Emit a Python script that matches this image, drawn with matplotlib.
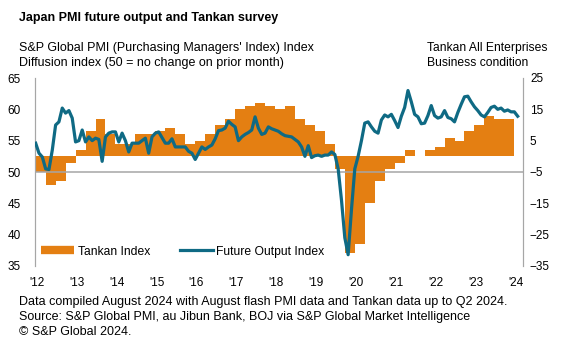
import matplotlib
matplotlib.use("Agg")
import matplotlib.pyplot as plt
import numpy as np
from matplotlib.lines import Line2D

plt.rcParams['font.family'] = ['Liberation Sans', 'DejaVu Sans']

# monthly PMI future output index, Jul 2012 - Aug 2024
future_output = [
    54.6, 53.0, 52.4, 50.5, 50.4, 53.5, 57.5, 58.0, 60.2, 59.4, 59.8, 58.6,   # Jul12-Jun13
    54.8, 55.0, 56.7, 54.8, 55.6, 55.0, 55.4, 55.2, 51.7, 55.6, 56.2, 56.4,   # Jul13-Jun14
    56.4, 54.8, 56.2, 55.0, 53.2, 54.6, 54.6, 54.6, 55.0, 55.4, 53.0, 55.6,   # Jul14-Jun15
    56.2, 56.4, 55.5, 54.6, 54.6, 55.3, 54.0, 54.0, 54.0, 54.0, 53.3, 53.0,   # Jul15-Jun16
    52.0, 53.0, 54.0, 53.6, 54.0, 54.3, 55.3, 56.6, 56.7, 57.0, 58.1, 57.6,   # Jul16-Jun17
    57.2, 55.0, 55.6, 56.0, 56.3, 56.7, 58.8, 57.0, 56.0, 56.2, 57.2, 56.9,   # Jul17-Jun18
    56.7, 56.5, 56.1, 55.8, 55.7, 55.6, 55.2, 54.8, 54.0, 52.5, 54.2, 52.3,   # Jul18-Jun19
    52.6, 52.7, 52.5, 52.7, 52.7, 53.2, 52.8, 50.5, 45.5, 39.5, 36.8, 44.0,   # Jul19-Jun20
    50.5, 52.5, 55.0, 57.8, 58.0, 57.2, 56.5, 56.2, 58.3, 59.1, 58.8, 59.2,   # Jul20-Jun21
    58.2, 57.1, 58.9, 60.3, 63.0, 61.2, 59.2, 58.8, 57.7, 57.8, 59.0, 60.6,   # Jul21-Jun22
    59.0, 58.6, 58.8, 59.8, 58.7, 58.5, 58.0, 59.5, 60.8, 62.0, 62.1, 61.2,   # Jul22-Jun23
    60.4, 59.8, 59.1, 58.8, 59.5, 60.3, 60.5, 60.0, 60.2, 59.7, 59.9, 59.6,   # Jul23-Jun24
    59.6, 58.9,                                                               # Jul24-Aug24
]

# quarterly Tankan all enterprises business conditions DI, Q3 2012 - Q2 2024
tankan = [
    -5, -9, -8, -2,
    2, 8, 12, 7,
    4, 4, 7, 7,
    8, 9, 7, 4,
    5, 7, 10, 12,
    15, 16, 17, 16,
    15, 16, 12, 10,
    8, 4, -4, -31,
    -28, -15, -8, -4,
    -2, 2, 0, 2,
    3, 6, 5, 8,
    10, 13, 12, 12,
]

year_labels = ["'12", "'13", "'14", "'15", "'16", "'17", "'18",
               "'19", "'20", "'21", "'22", "'23", "'24"]

orange = '#E47F12'
teal = '#0F6A84'
grey = '#A6A6A6'

W, H = 578, 344
fig = plt.figure(figsize=(W / 100, H / 100), dpi=100)

# plot area in pixels: x 35..523, y 78..266
ax1 = fig.add_axes([35 / W, 1 - 266 / H, (523 - 35) / W, (266 - 78) / H])
ax2 = ax1.twinx()
ax1.set_zorder(ax2.get_zorder() + 1)
ax1.patch.set_visible(False)

months = np.arange(len(future_output))
quarters = np.arange(len(tankan)) * 3

ax2.bar(quarters, tankan, width=3, align='edge', color=orange, linewidth=0)
ax1.axhline(50, color=grey, lw=1.1, zorder=1)
ax1.plot(months, future_output, color=teal, lw=2.3, zorder=3,
         solid_joinstyle='round')

ax1.set_ylim(35, 65)
ax2.set_ylim(-35, 25)
ax1.set_xlim(-0.2, 146.6)
ax1.set_yticks(np.arange(35, 66, 5))
ax2.set_yticks(np.arange(-35, 26, 10))
ax1.set_xticks(np.arange(len(year_labels)) * 12 + 0.4)
ax1.set_xticklabels(year_labels)

for ax in (ax1, ax2):
    ax.spines['top'].set_visible(False)
    ax.spines['bottom'].set_visible(False)
    ax.spines['left'].set_color(grey)
    ax.spines['right'].set_color(grey)
    ax.tick_params(length=0, labelsize=8.5, colors='#000000')
ax1.tick_params(axis='y', pad=10)
ax2.tick_params(axis='y', pad=5)
ax1.tick_params(axis='x', pad=8)

handles = [Line2D([], [], color=orange, lw=6, solid_capstyle='butt'),
           Line2D([], [], color=teal, lw=2.3)]
ax1.legend(handles, ['Tankan Index', 'Future Output Index'], loc='center left',
           bbox_to_anchor=(0.013, 0.076), ncol=2, frameon=False,
           fontsize=8.7, handlelength=2.7, handletextpad=0.3,
           columnspacing=2.5, borderpad=0, borderaxespad=0)

fs = 9
fig.text(19 / W, 1 - 18 / H, 'Japan PMI future output and Tankan survey',
         fontsize=fs, fontweight='bold', va='center', ha='left')
fig.text(19 / W, 1 - 48 / H, "S&P Global PMI (Purchasing Managers' Index) Index",
         fontsize=fs, va='center', ha='left')
fig.text(19 / W, 1 - 63 / H, 'Diffusion index (50 = no change on prior month)',
         fontsize=fs, va='center', ha='left')
fig.text(427 / W, 1 - 48 / H, 'Tankan All Enterprises',
         fontsize=8.7, va='center', ha='left')
fig.text(427 / W, 1 - 63 / H, 'Business condition',
         fontsize=8.7, va='center', ha='left')

notes = ['Data compiled August 2024 with August flash PMI data and Tankan data up to Q2 2024.',
         'Source: S&P Global PMI, au Jibun Bank, BOJ via S&P Global Market Intelligence',
         '\u00a9 S&P Global 2024.']
for i, line in enumerate(notes):
    fig.text(19 / W, 1 - (302 + 15 * i) / H, line, fontsize=fs,
             va='center', ha='left')

fig.savefig('out.png', dpi=100)
